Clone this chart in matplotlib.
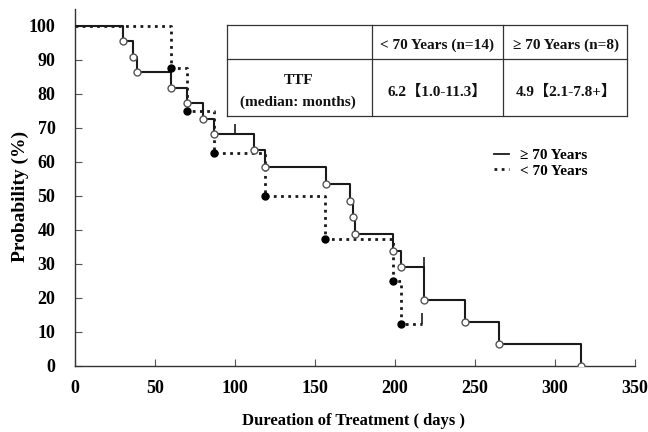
import matplotlib
matplotlib.use("Agg")
import matplotlib.pyplot as plt
from matplotlib.lines import Line2D

SERIF = ["Liberation Serif", "Noto Sans CJK JP", "DejaVu Serif"]
INK = "#1a1a1a"

# >= 70 years (solid, open circles)
old_times = [0, 30, 36, 39, 60, 70, 80, 87, 112, 119, 157, 172, 174, 175, 199, 204, 218, 244, 265, 316]
old_surv = [100, 95.5, 90.9, 86.4, 81.8, 77.3, 72.7, 68.2, 63.6, 58.6, 53.6, 48.6, 43.7, 38.8, 33.9, 29.0, 19.3, 12.9, 6.4, 0]
old_censor_t = [100, 218]
old_censor_s = [68.2, 29.0]

# < 70 years (dotted, filled dots)
young_times = [0, 60, 70, 87, 119, 156, 199, 204]
young_surv = [100, 87.5, 75, 62.5, 50, 37.5, 25, 12.5]
young_censor_t = [217]
young_censor_s = [12.5]

x_ticks = [0, 50, 100, 150, 200, 250, 300, 350]
y_ticks = [0, 10, 20, 30, 40, 50, 60, 70, 80, 90, 100]

table_head = ["< 70 Years (n=14)", "\u2265 70 Years (n=8)"]
table_row = ["6.2\u30101.0-11.3\u3011", "4.9\u30102.1-7.8+\u3011"]


def px(x, y):
    return x / 648, 1 - y / 432


fig = plt.figure(figsize=(6.48, 4.32), dpi=100)
ax = fig.add_axes([75 / 648, 1 - 366 / 432, 560 / 648, 357 / 432])

# curves
ax.step(old_times, old_surv, where="post", color=INK, lw=1.5, zorder=3)
ax.plot(old_times[1:], old_surv[1:], "o", ms=5, mfc="white", mec="#555555", mew=1.0, zorder=4)
ax.vlines(old_censor_t, old_censor_s, [s + 3 for s in old_censor_s], color=INK, lw=1.2, zorder=3)

yx = young_times + young_censor_t
ys = young_surv + young_censor_s
ax.step(yx, ys, where="post", color=INK, lw=2.0, ls=(0, (1, 1.6)), zorder=2)
ax.plot(young_times[1:], young_surv[1:], "o", ms=5, color="black", zorder=4)
ax.vlines(young_censor_t, young_censor_s, [s + 3 for s in young_censor_s], color=INK, lw=1.2, zorder=3)

ax.set_xlim(0, 350)
ax.set_ylim(0, 105)
ax.set_xticks(x_ticks)
ax.set_yticks(y_ticks)
for spine in ["top", "right"]:
    ax.spines[spine].set_visible(False)
for spine in ["left", "bottom"]:
    ax.spines[spine].set_color("#333333")
    ax.spines[spine].set_linewidth(1.0)
ax.tick_params(direction="in", length=5, color="#555555", pad=10)
for lab in ax.get_xticklabels() + ax.get_yticklabels():
    lab.set_fontfamily(SERIF)
    lab.set_fontweight("bold")
    lab.set_fontsize(13)
ax.tick_params(axis="y", pad=14)

fig.text(*px(354, 421), "Dureation of Treatment ( days )", ha="center", va="center",
         family=SERIF, fontweight="bold", fontsize=12)
fig.text(*px(20, 196), "Probability (%)", ha="center", va="center", rotation=90,
         family=SERIF, fontweight="bold", fontsize=14)

# table
lk = dict(transform=fig.transFigure, color="#333333", lw=0.9)
for yy in [25, 59, 116]:
    fig.add_artist(Line2D([227 / 648, 627 / 648], [1 - yy / 432] * 2, **lk))
for xx in [227, 372, 503, 627]:
    fig.add_artist(Line2D([xx / 648] * 2, [1 - 25 / 432, 1 - 116 / 432], **lk))

tk = dict(ha="center", va="center", family=SERIF, fontweight="bold", fontsize=11, color="#111111")
fig.text(*px(437, 45), table_head[0], **tk)
fig.text(*px(566, 45), table_head[1], **tk)
fig.text(*px(298, 81), "TTF", **tk)
fig.text(*px(298, 102), "(median: months)", **tk)
fig.text(*px(437, 92), table_row[0], **tk)
fig.text(*px(566, 92), table_row[1], **tk)

# legend
handles = [
    Line2D([], [], color=INK, lw=1.3),
    Line2D([], [], color=INK, lw=2.0, ls=(0, (1, 1.6))),
]
leg = fig.legend(handles, ["\u2265 70 Years", "< 70 Years"], loc="upper left",
                 bbox_to_anchor=px(480, 135), frameon=False, handlelength=1.0,
                 handletextpad=0.7, labelspacing=0.1,
                 prop=dict(family=SERIF, weight="bold", size=11))

fig.savefig("out.png", dpi=100)
